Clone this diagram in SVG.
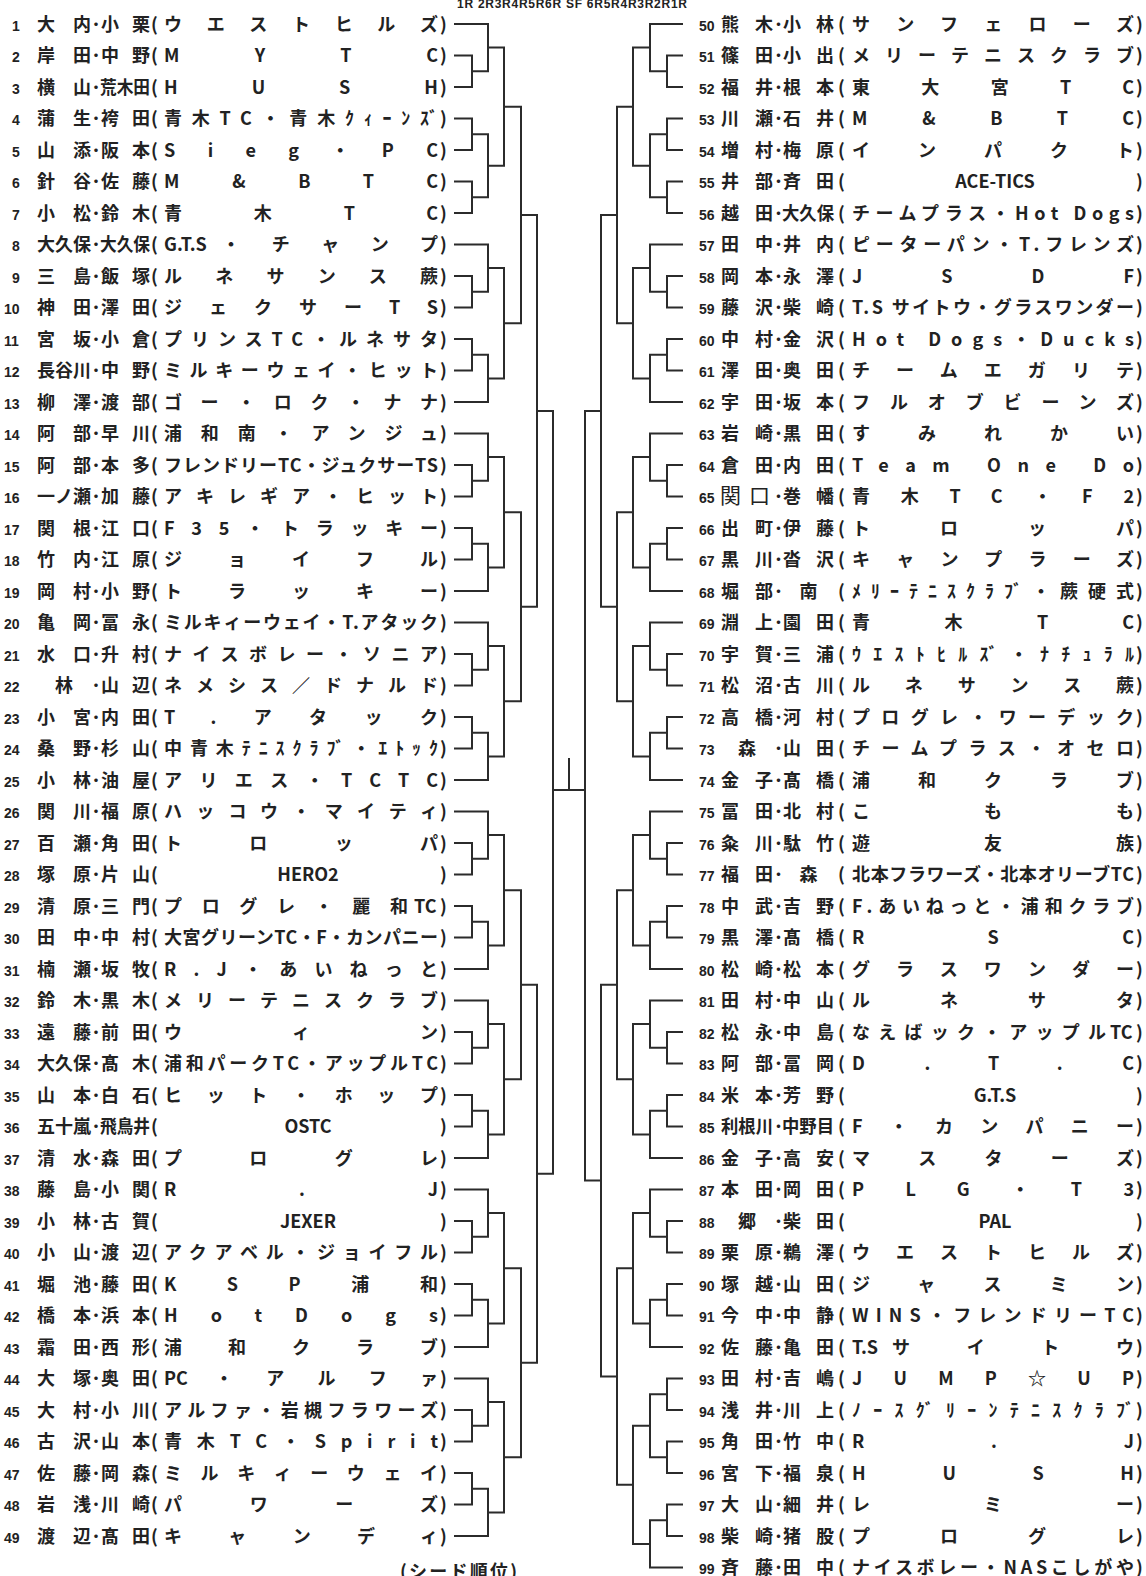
<svg xmlns="http://www.w3.org/2000/svg" width="1146" height="1576" viewBox="0 0 1146 1576">
<style>
text{font-family:"Noto Sans CJK JP","Noto Sans CJK SC",sans-serif;font-size:18px;font-weight:700;fill:#222}
.n{font-family:"Liberation Sans",Arial,sans-serif;font-size:14px;font-weight:700}
.c{text-anchor:middle}
.hd{font-family:"Liberation Sans",Arial,sans-serif;font-size:12px;font-weight:700}
.w{font-weight:400;font-size:21px}
#lines path{fill:none;stroke:#2b2b2b;stroke-width:2}
</style>
<rect width="1146" height="1576" fill="#fff"/>
<text class="hd" x="457" y="8" textLength="230">1R 2R3R4R5R6R SF 6R5R4R3R2R1R</text>
<g id="lines">
<path d="M454 55.5H472V87H454M454 24H488V71.25H472M454 118.5H472V150H454M454 181.5H472V213H454M472 134.25H488V197.25H472M488 47.6H504V165.75H488M454 276H472V307.5H454M454 244.5H488V291.75H472M454 339H472V370.5H454M472 354.75H488V402H454M488 268.1H504V378.4H488M504 106.7H521V323.25H504"/>
<path d="M454 465H472V496.5H454M454 433.5H488V480.75H472M454 528H472V559.5H454M472 543.75H488V591H454M488 457.1H504V567.4H488M454 654H472V685.5H454M454 622.5H488V669.75H472M454 717H472V748.5H454M472 732.75H488V780H454M488 646.1H504V756.4H488M504 512.25H521V701.25H504M521 215H537V606.75H521"/>
<path d="M454 843H472V874.5H454M454 811.5H488V858.75H472M454 906H472V937.5H454M472 921.75H488V969H454M488 835.1H504V945.4H488M454 1032H472V1063.5H454M454 1000.5H488V1047.75H472M454 1095H472V1126.5H454M472 1110.75H488V1158H454M488 1024.1H504V1134.4H488M504 890.25H521V1079.25H504"/>
<path d="M454 1221H472V1252.5H454M454 1189.5H488V1236.75H472M454 1284H472V1315.5H454M472 1299.75H488V1347H454M488 1213.1H504V1323.4H488M454 1410H472V1441.5H454M454 1378.5H488V1425.75H472M454 1473H472V1504.5H454M472 1488.75H488V1536H454M488 1402.1H504V1512.4H488M504 1268.25H521V1457.25H504M521 984.75H537V1362.75H521M537 410.9H553V1173.75H537"/>
<path d="M553 790H585M569 790V758"/>
<path d="M683 55.5H667V87H683M683 24H650V71.25H667M683 118.5H667V150H683M683 181.5H667V213H683M667 134.25H650V197.25H667M650 47.6H633V165.75H650M683 276H667V307.5H683M683 244.5H650V291.75H667M683 339H667V370.5H683M667 354.75H650V402H683M650 268.1H633V378.4H650M633 106.7H617V323.25H633"/>
<path d="M683 465H667V496.5H683M683 433.5H650V480.75H667M683 528H667V559.5H683M667 543.75H650V591H683M650 457.1H633V567.4H650M683 654H667V685.5H683M683 622.5H650V669.75H667M683 717H667V748.5H683M667 732.75H650V780H683M650 646.1H633V756.4H650M633 512.25H617V701.25H633M617 215H601V606.75H617"/>
<path d="M683 843H667V874.5H683M683 811.5H650V858.75H667M683 906H667V937.5H683M667 921.75H650V969H683M650 835.1H633V945.4H650M683 1032H667V1063.5H683M683 1000.5H650V1047.75H667M683 1095H667V1126.5H683M667 1110.75H650V1158H683M650 1024.1H633V1134.4H650M633 890.25H617V1079.25H633"/>
<path d="M683 1221H667V1252.5H683M683 1189.5H650V1236.75H667M683 1284H667V1315.5H683M667 1299.75H650V1347H683M650 1213.1H633V1323.4H650M683 1378.5H667V1410H683M683 1441.5H667V1473H683M667 1394.25H650V1457.25H667M683 1504.5H667V1536H683M667 1520.25H650V1567.5H683M650 1425.75H633V1543.9H650M633 1268.25H617V1484.8H633M617 984.75H601V1376.5H617M601 410.9H585V1180.6H601"/>
</g>
<g id="left">
<g id="p1" transform="translate(0,24)"><text y="6.5"><tspan class="n" x="12">1</tspan><tspan x="37" textLength="54">大内</tspan><tspan x="91.5">･</tspan><tspan x="101" textLength="49">小栗</tspan><tspan x="151">(</tspan><tspan x="164" textLength="274">ウエストヒルズ</tspan><tspan x="440">)</tspan></text></g>
<g id="p2" transform="translate(0,55.5)"><text y="6.5"><tspan class="n" x="12">2</tspan><tspan x="37" textLength="54">岸田</tspan><tspan x="91.5">･</tspan><tspan x="101" textLength="49">中野</tspan><tspan x="151">(</tspan><tspan x="164" textLength="274">MYTC</tspan><tspan x="440">)</tspan></text></g>
<g id="p3" transform="translate(0,87)"><text y="6.5"><tspan class="n" x="12">3</tspan><tspan x="37" textLength="54">横山</tspan><tspan x="91.5">･</tspan><tspan x="100" textLength="50" lengthAdjust="spacingAndGlyphs">荒木田</tspan><tspan x="151">(</tspan><tspan x="164" textLength="274">HUSH</tspan><tspan x="440">)</tspan></text></g>
<g id="p4" transform="translate(0,118.5)"><text y="6.5"><tspan class="n" x="12">4</tspan><tspan x="37" textLength="54">蒲生</tspan><tspan x="91.5">･</tspan><tspan x="101" textLength="49">袴田</tspan><tspan x="151">(</tspan><tspan x="164" textLength="274">青木TC・青木ｸｨｰﾝｽﾞ</tspan><tspan x="440">)</tspan></text></g>
<g id="p5" transform="translate(0,150)"><text y="6.5"><tspan class="n" x="12">5</tspan><tspan x="37" textLength="54">山添</tspan><tspan x="91.5">･</tspan><tspan x="101" textLength="49">阪本</tspan><tspan x="151">(</tspan><tspan x="164" textLength="274">Sieg・PC</tspan><tspan x="440">)</tspan></text></g>
<g id="p6" transform="translate(0,181.5)"><text y="6.5"><tspan class="n" x="12">6</tspan><tspan x="37" textLength="54">針谷</tspan><tspan x="91.5">･</tspan><tspan x="101" textLength="49">佐藤</tspan><tspan x="151">(</tspan><tspan x="164" textLength="274">M&amp;BTC</tspan><tspan x="440">)</tspan></text></g>
<g id="p7" transform="translate(0,213)"><text y="6.5"><tspan class="n" x="12">7</tspan><tspan x="37" textLength="54">小松</tspan><tspan x="91.5">･</tspan><tspan x="101" textLength="49">鈴木</tspan><tspan x="151">(</tspan><tspan x="164" textLength="274">青木TC</tspan><tspan x="440">)</tspan></text></g>
<g id="p8" transform="translate(0,244.5)"><text y="6.5"><tspan class="n" x="12">8</tspan><tspan x="37" textLength="54">大久保</tspan><tspan x="91.5">･</tspan><tspan x="100" textLength="50" lengthAdjust="spacingAndGlyphs">大久保</tspan><tspan x="151">(</tspan><tspan x="164">G.T.S</tspan><tspan x="222" textLength="216">・チャンプ</tspan><tspan x="440">)</tspan></text></g>
<g id="p9" transform="translate(0,276)"><text y="6.5"><tspan class="n" x="12">9</tspan><tspan x="37" textLength="54">三島</tspan><tspan x="91.5">･</tspan><tspan x="101" textLength="49">飯塚</tspan><tspan x="151">(</tspan><tspan x="164" textLength="274">ルネサンス蕨</tspan><tspan x="440">)</tspan></text></g>
<g id="p10" transform="translate(0,307.5)"><text y="6.5"><tspan class="n" x="4">10</tspan><tspan x="37" textLength="54">神田</tspan><tspan x="91.5">･</tspan><tspan x="101" textLength="49">澤田</tspan><tspan x="151">(</tspan><tspan x="164" textLength="274">ジェクサーTS</tspan><tspan x="440">)</tspan></text></g>
<g id="p11" transform="translate(0,339)"><text y="6.5"><tspan class="n" x="4">11</tspan><tspan x="37" textLength="54">宮坂</tspan><tspan x="91.5">･</tspan><tspan x="101" textLength="49">小倉</tspan><tspan x="151">(</tspan><tspan x="164" textLength="274">プリンスTC・ルネサタ</tspan><tspan x="440">)</tspan></text></g>
<g id="p12" transform="translate(0,370.5)"><text y="6.5"><tspan class="n" x="4">12</tspan><tspan x="37" textLength="54">長谷川</tspan><tspan x="91.5">･</tspan><tspan x="101" textLength="49">中野</tspan><tspan x="151">(</tspan><tspan x="164" textLength="274">ミルキーウェイ・ヒット</tspan><tspan x="440">)</tspan></text></g>
<g id="p13" transform="translate(0,402)"><text y="6.5"><tspan class="n" x="4">13</tspan><tspan x="37" textLength="54">柳澤</tspan><tspan x="91.5">･</tspan><tspan x="101" textLength="49">渡部</tspan><tspan x="151">(</tspan><tspan x="164" textLength="274">ゴー・ロク・ナナ</tspan><tspan x="440">)</tspan></text></g>
<g id="p14" transform="translate(0,433.5)"><text y="6.5"><tspan class="n" x="4">14</tspan><tspan x="37" textLength="54">阿部</tspan><tspan x="91.5">･</tspan><tspan x="101" textLength="49">早川</tspan><tspan x="151">(</tspan><tspan x="164" textLength="274">浦和南・アンジュ</tspan><tspan x="440">)</tspan></text></g>
<g id="p15" transform="translate(0,465)"><text y="6.5"><tspan class="n" x="4">15</tspan><tspan x="37" textLength="54">阿部</tspan><tspan x="91.5">･</tspan><tspan x="101" textLength="49">本多</tspan><tspan x="151">(</tspan><tspan x="164" textLength="274">フレンドリーTC・ジュクサーTS</tspan><tspan x="440">)</tspan></text></g>
<g id="p16" transform="translate(0,496.5)"><text y="6.5"><tspan class="n" x="4">16</tspan><tspan x="37" textLength="54">一ノ瀬</tspan><tspan x="91.5">･</tspan><tspan x="101" textLength="49">加藤</tspan><tspan x="151">(</tspan><tspan x="164" textLength="274">アキレギア・ヒット</tspan><tspan x="440">)</tspan></text></g>
<g id="p17" transform="translate(0,528)"><text y="6.5"><tspan class="n" x="4">17</tspan><tspan x="37" textLength="54">関根</tspan><tspan x="91.5">･</tspan><tspan x="101" textLength="49">江口</tspan><tspan x="151">(</tspan><tspan x="164" textLength="274">F35・トラッキー</tspan><tspan x="440">)</tspan></text></g>
<g id="p18" transform="translate(0,559.5)"><text y="6.5"><tspan class="n" x="4">18</tspan><tspan x="37" textLength="54">竹内</tspan><tspan x="91.5">･</tspan><tspan x="101" textLength="49">江原</tspan><tspan x="151">(</tspan><tspan x="164" textLength="274">ジョイフル</tspan><tspan x="440">)</tspan></text></g>
<g id="p19" transform="translate(0,591)"><text y="6.5"><tspan class="n" x="4">19</tspan><tspan x="37" textLength="54">岡村</tspan><tspan x="91.5">･</tspan><tspan x="101" textLength="49">小野</tspan><tspan x="151">(</tspan><tspan x="164" textLength="274">トラッキー</tspan><tspan x="440">)</tspan></text></g>
<g id="p20" transform="translate(0,622.5)"><text y="6.5"><tspan class="n" x="4">20</tspan><tspan x="37" textLength="54">亀岡</tspan><tspan x="91.5">･</tspan><tspan x="101" textLength="49">冨永</tspan><tspan x="151">(</tspan><tspan x="164" textLength="274">ミルキィーウェイ・T.アタック</tspan><tspan x="440">)</tspan></text></g>
<g id="p21" transform="translate(0,654)"><text y="6.5"><tspan class="n" x="4">21</tspan><tspan x="37" textLength="54">水口</tspan><tspan x="91.5">･</tspan><tspan x="101" textLength="49">升村</tspan><tspan x="151">(</tspan><tspan x="164" textLength="274">ナイスボレー・ソニア</tspan><tspan x="440">)</tspan></text></g>
<g id="p22" transform="translate(0,685.5)"><text y="6.5"><tspan class="n" x="4">22</tspan><tspan x="55">林</tspan><tspan x="91.5">･</tspan><tspan x="101" textLength="49">山辺</tspan><tspan x="151">(</tspan><tspan x="164" textLength="274">ネメシス／ドナルド</tspan><tspan x="440">)</tspan></text></g>
<g id="p23" transform="translate(0,717)"><text y="6.5"><tspan class="n" x="4">23</tspan><tspan x="37" textLength="54">小宮</tspan><tspan x="91.5">･</tspan><tspan x="101" textLength="49">内田</tspan><tspan x="151">(</tspan><tspan x="164" textLength="274">T.アタック</tspan><tspan x="440">)</tspan></text></g>
<g id="p24" transform="translate(0,748.5)"><text y="6.5"><tspan class="n" x="4">24</tspan><tspan x="37" textLength="54">桑野</tspan><tspan x="91.5">･</tspan><tspan x="101" textLength="49">杉山</tspan><tspan x="151">(</tspan><tspan x="164" textLength="274">中青木ﾃﾆｽｸﾗﾌﾞ・ｴﾄｯｸ</tspan><tspan x="440">)</tspan></text></g>
<g id="p25" transform="translate(0,780)"><text y="6.5"><tspan class="n" x="4">25</tspan><tspan x="37" textLength="54">小林</tspan><tspan x="91.5">･</tspan><tspan x="101" textLength="49">油屋</tspan><tspan x="151">(</tspan><tspan x="164" textLength="274">アリエス・TCTC</tspan><tspan x="440">)</tspan></text></g>
<g id="p26" transform="translate(0,811.5)"><text y="6.5"><tspan class="n" x="4">26</tspan><tspan x="37" textLength="54">関川</tspan><tspan x="91.5">･</tspan><tspan x="101" textLength="49">福原</tspan><tspan x="151">(</tspan><tspan x="164" textLength="274">ハッコウ・マイティ</tspan><tspan x="440">)</tspan></text></g>
<g id="p27" transform="translate(0,843)"><text y="6.5"><tspan class="n" x="4">27</tspan><tspan x="37" textLength="54">百瀬</tspan><tspan x="91.5">･</tspan><tspan x="101" textLength="49">角田</tspan><tspan x="151">(</tspan><tspan x="164" textLength="274">トロッパ</tspan><tspan x="440">)</tspan></text></g>
<g id="p28" transform="translate(0,874.5)"><text y="6.5"><tspan class="n" x="4">28</tspan><tspan x="37" textLength="54">塚原</tspan><tspan x="91.5">･</tspan><tspan x="101" textLength="49">片山</tspan><tspan x="151">(</tspan><tspan x="440">)</tspan></text><text class="c" x="308" y="6.5">HERO2</text></g>
<g id="p29" transform="translate(0,906)"><text y="6.5"><tspan class="n" x="4">29</tspan><tspan x="37" textLength="54">清原</tspan><tspan x="91.5">･</tspan><tspan x="101" textLength="49">三門</tspan><tspan x="151">(</tspan><tspan x="164" textLength="244">プログレ・麗和</tspan><tspan x="414">TC</tspan><tspan x="440">)</tspan></text></g>
<g id="p30" transform="translate(0,937.5)"><text y="6.5"><tspan class="n" x="4">30</tspan><tspan x="37" textLength="54">田中</tspan><tspan x="91.5">･</tspan><tspan x="101" textLength="49">中村</tspan><tspan x="151">(</tspan><tspan x="164" textLength="274">大宮グリーンTC・F・カンパニー</tspan><tspan x="440">)</tspan></text></g>
<g id="p31" transform="translate(0,969)"><text y="6.5"><tspan class="n" x="4">31</tspan><tspan x="37" textLength="54">楠瀬</tspan><tspan x="91.5">･</tspan><tspan x="101" textLength="49">坂牧</tspan><tspan x="151">(</tspan><tspan x="164" textLength="274">R.J・あいねっと</tspan><tspan x="440">)</tspan></text></g>
<g id="p32" transform="translate(0,1000.5)"><text y="6.5"><tspan class="n" x="4">32</tspan><tspan x="37" textLength="54">鈴木</tspan><tspan x="91.5">･</tspan><tspan x="101" textLength="49">黒木</tspan><tspan x="151">(</tspan><tspan x="164" textLength="274">メリーテニスクラブ</tspan><tspan x="440">)</tspan></text></g>
<g id="p33" transform="translate(0,1032)"><text y="6.5"><tspan class="n" x="4">33</tspan><tspan x="37" textLength="54">遠藤</tspan><tspan x="91.5">･</tspan><tspan x="101" textLength="49">前田</tspan><tspan x="151">(</tspan><tspan x="164" textLength="274">ウィン</tspan><tspan x="440">)</tspan></text></g>
<g id="p34" transform="translate(0,1063.5)"><text y="6.5"><tspan class="n" x="4">34</tspan><tspan x="37" textLength="54">大久保</tspan><tspan x="91.5">･</tspan><tspan x="101" textLength="49">髙木</tspan><tspan x="151">(</tspan><tspan x="164" textLength="274">浦和パークTC・アップルTC</tspan><tspan x="440">)</tspan></text></g>
<g id="p35" transform="translate(0,1095)"><text y="6.5"><tspan class="n" x="4">35</tspan><tspan x="37" textLength="54">山本</tspan><tspan x="91.5">･</tspan><tspan x="101" textLength="49">白石</tspan><tspan x="151">(</tspan><tspan x="164" textLength="274">ヒット・ホップ</tspan><tspan x="440">)</tspan></text></g>
<g id="p36" transform="translate(0,1126.5)"><text y="6.5"><tspan class="n" x="4">36</tspan><tspan x="37" textLength="54">五十嵐</tspan><tspan x="91.5">･</tspan><tspan x="100" textLength="50" lengthAdjust="spacingAndGlyphs">飛鳥井</tspan><tspan x="151">(</tspan><tspan x="440">)</tspan></text><text class="c" x="308" y="6.5">OSTC</text></g>
<g id="p37" transform="translate(0,1158)"><text y="6.5"><tspan class="n" x="4">37</tspan><tspan x="37" textLength="54">清水</tspan><tspan x="91.5">･</tspan><tspan x="101" textLength="49">森田</tspan><tspan x="151">(</tspan><tspan x="164" textLength="274">プログレ</tspan><tspan x="440">)</tspan></text></g>
<g id="p38" transform="translate(0,1189.5)"><text y="6.5"><tspan class="n" x="4">38</tspan><tspan x="37" textLength="54">藤島</tspan><tspan x="91.5">･</tspan><tspan x="101" textLength="49">小関</tspan><tspan x="151">(</tspan><tspan x="164" textLength="274">R.J</tspan><tspan x="440">)</tspan></text></g>
<g id="p39" transform="translate(0,1221)"><text y="6.5"><tspan class="n" x="4">39</tspan><tspan x="37" textLength="54">小林</tspan><tspan x="91.5">･</tspan><tspan x="101" textLength="49">古賀</tspan><tspan x="151">(</tspan><tspan x="440">)</tspan></text><text class="c" x="308" y="6.5">JEXER</text></g>
<g id="p40" transform="translate(0,1252.5)"><text y="6.5"><tspan class="n" x="4">40</tspan><tspan x="37" textLength="54">小山</tspan><tspan x="91.5">･</tspan><tspan x="101" textLength="49">渡辺</tspan><tspan x="151">(</tspan><tspan x="164" textLength="274">アクアベル・ジョイフル</tspan><tspan x="440">)</tspan></text></g>
<g id="p41" transform="translate(0,1284)"><text y="6.5"><tspan class="n" x="4">41</tspan><tspan x="37" textLength="54">堀池</tspan><tspan x="91.5">･</tspan><tspan x="101" textLength="49">藤田</tspan><tspan x="151">(</tspan><tspan x="164" textLength="274">KSP浦和</tspan><tspan x="440">)</tspan></text></g>
<g id="p42" transform="translate(0,1315.5)"><text y="6.5"><tspan class="n" x="4">42</tspan><tspan x="37" textLength="54">橋本</tspan><tspan x="91.5">･</tspan><tspan x="101" textLength="49">浜本</tspan><tspan x="151">(</tspan><tspan x="164" textLength="274">HotDogs</tspan><tspan x="440">)</tspan></text></g>
<g id="p43" transform="translate(0,1347)"><text y="6.5"><tspan class="n" x="4">43</tspan><tspan x="37" textLength="54">霜田</tspan><tspan x="91.5">･</tspan><tspan x="101" textLength="49">西形</tspan><tspan x="151">(</tspan><tspan x="164" textLength="274">浦和クラブ</tspan><tspan x="440">)</tspan></text></g>
<g id="p44" transform="translate(0,1378.5)"><text y="6.5"><tspan class="n" x="4">44</tspan><tspan x="37" textLength="54">大塚</tspan><tspan x="91.5">･</tspan><tspan x="101" textLength="49">奥田</tspan><tspan x="151">(</tspan><tspan x="164">PC</tspan><tspan x="215" textLength="223">・アルファ</tspan><tspan x="440">)</tspan></text></g>
<g id="p45" transform="translate(0,1410)"><text y="6.5"><tspan class="n" x="4">45</tspan><tspan x="37" textLength="54">大村</tspan><tspan x="91.5">･</tspan><tspan x="101" textLength="49">小川</tspan><tspan x="151">(</tspan><tspan x="164" textLength="274">アルファ・岩槻フラワーズ</tspan><tspan x="440">)</tspan></text></g>
<g id="p46" transform="translate(0,1441.5)"><text y="6.5"><tspan class="n" x="4">46</tspan><tspan x="37" textLength="54">古沢</tspan><tspan x="91.5">･</tspan><tspan x="101" textLength="49">山本</tspan><tspan x="151">(</tspan><tspan x="164" textLength="274">青木TC・Spirit</tspan><tspan x="440">)</tspan></text></g>
<g id="p47" transform="translate(0,1473)"><text y="6.5"><tspan class="n" x="4">47</tspan><tspan x="37" textLength="54">佐藤</tspan><tspan x="91.5">･</tspan><tspan x="101" textLength="49">岡森</tspan><tspan x="151">(</tspan><tspan x="164" textLength="274">ミルキィーウェイ</tspan><tspan x="440">)</tspan></text></g>
<g id="p48" transform="translate(0,1504.5)"><text y="6.5"><tspan class="n" x="4">48</tspan><tspan x="37" textLength="54">岩浅</tspan><tspan x="91.5">･</tspan><tspan x="101" textLength="49">川崎</tspan><tspan x="151">(</tspan><tspan x="164" textLength="274">パワーズ</tspan><tspan x="440">)</tspan></text></g>
<g id="p49" transform="translate(0,1536)"><text y="6.5"><tspan class="n" x="4">49</tspan><tspan x="37" textLength="54">渡辺</tspan><tspan x="91.5">･</tspan><tspan x="101" textLength="49">髙田</tspan><tspan x="151">(</tspan><tspan x="164" textLength="274">キャンディ</tspan><tspan x="440">)</tspan></text></g>
</g>
<g id="right">
<g id="p50" transform="translate(0,24)"><text y="6.5"><tspan class="n" x="699">50</tspan><tspan x="721" textLength="52">熊木</tspan><tspan x="774">･</tspan><tspan x="783" textLength="51">小林</tspan><tspan x="838">(</tspan><tspan x="852" textLength="282">サンフェローズ</tspan><tspan x="1136">)</tspan></text></g>
<g id="p51" transform="translate(0,55.5)"><text y="6.5"><tspan class="n" x="699">51</tspan><tspan x="721" textLength="52">篠田</tspan><tspan x="774">･</tspan><tspan x="783" textLength="51">小出</tspan><tspan x="838">(</tspan><tspan x="852" textLength="282">メリーテニスクラブ</tspan><tspan x="1136">)</tspan></text></g>
<g id="p52" transform="translate(0,87)"><text y="6.5"><tspan class="n" x="699">52</tspan><tspan x="721" textLength="52">福井</tspan><tspan x="774">･</tspan><tspan x="783" textLength="51">根本</tspan><tspan x="838">(</tspan><tspan x="852" textLength="282">東大宮TC</tspan><tspan x="1136">)</tspan></text></g>
<g id="p53" transform="translate(0,118.5)"><text y="6.5"><tspan class="n" x="699">53</tspan><tspan x="721" textLength="52">川瀬</tspan><tspan x="774">･</tspan><tspan x="783" textLength="51">石井</tspan><tspan x="838">(</tspan><tspan x="852" textLength="282">M&amp;BTC</tspan><tspan x="1136">)</tspan></text></g>
<g id="p54" transform="translate(0,150)"><text y="6.5"><tspan class="n" x="699">54</tspan><tspan x="721" textLength="52">増村</tspan><tspan x="774">･</tspan><tspan x="783" textLength="51">梅原</tspan><tspan x="838">(</tspan><tspan x="852" textLength="282">インパクト</tspan><tspan x="1136">)</tspan></text></g>
<g id="p55" transform="translate(0,181.5)"><text y="6.5"><tspan class="n" x="699">55</tspan><tspan x="721" textLength="52">井部</tspan><tspan x="774">･</tspan><tspan x="783" textLength="51">斉田</tspan><tspan x="838">(</tspan><tspan x="1136">)</tspan></text><text class="c" x="995" y="6.5">ACE-TICS</text></g>
<g id="p56" transform="translate(0,213)"><text y="6.5"><tspan class="n" x="699">56</tspan><tspan x="721" textLength="52">越田</tspan><tspan x="774">･</tspan><tspan x="782" textLength="52" lengthAdjust="spacingAndGlyphs">大久保</tspan><tspan x="838">(</tspan><tspan x="852" textLength="282">チームプラス・Hot Dogs</tspan><tspan x="1136">)</tspan></text></g>
<g id="p57" transform="translate(0,244.5)"><text y="6.5"><tspan class="n" x="699">57</tspan><tspan x="721" textLength="52">田中</tspan><tspan x="774">･</tspan><tspan x="783" textLength="51">井内</tspan><tspan x="838">(</tspan><tspan x="852" textLength="282">ピーターパン・T.フレンズ</tspan><tspan x="1136">)</tspan></text></g>
<g id="p58" transform="translate(0,276)"><text y="6.5"><tspan class="n" x="699">58</tspan><tspan x="721" textLength="52">岡本</tspan><tspan x="774">･</tspan><tspan x="783" textLength="51">永澤</tspan><tspan x="838">(</tspan><tspan x="852" textLength="282">JSDF</tspan><tspan x="1136">)</tspan></text></g>
<g id="p59" transform="translate(0,307.5)"><text y="6.5"><tspan class="n" x="699">59</tspan><tspan x="721" textLength="52">藤沢</tspan><tspan x="774">･</tspan><tspan x="783" textLength="51">柴崎</tspan><tspan x="838">(</tspan><tspan x="852" textLength="282">T.S サイトウ・グラスワンダー</tspan><tspan x="1136">)</tspan></text></g>
<g id="p60" transform="translate(0,339)"><text y="6.5"><tspan class="n" x="699">60</tspan><tspan x="721" textLength="52">中村</tspan><tspan x="774">･</tspan><tspan x="783" textLength="51">金沢</tspan><tspan x="838">(</tspan><tspan x="852" textLength="282">Hot Dogs・Ducks</tspan><tspan x="1136">)</tspan></text></g>
<g id="p61" transform="translate(0,370.5)"><text y="6.5"><tspan class="n" x="699">61</tspan><tspan x="721" textLength="52">澤田</tspan><tspan x="774">･</tspan><tspan x="783" textLength="51">奥田</tspan><tspan x="838">(</tspan><tspan x="852" textLength="282">チームエガリテ</tspan><tspan x="1136">)</tspan></text></g>
<g id="p62" transform="translate(0,402)"><text y="6.5"><tspan class="n" x="699">62</tspan><tspan x="721" textLength="52">宇田</tspan><tspan x="774">･</tspan><tspan x="783" textLength="51">坂本</tspan><tspan x="838">(</tspan><tspan x="852" textLength="282">フルオブビーンズ</tspan><tspan x="1136">)</tspan></text></g>
<g id="p63" transform="translate(0,433.5)"><text y="6.5"><tspan class="n" x="699">63</tspan><tspan x="721" textLength="52">岩崎</tspan><tspan x="774">･</tspan><tspan x="783" textLength="51">黒田</tspan><tspan x="838">(</tspan><tspan x="852" textLength="282">すみれかい</tspan><tspan x="1136">)</tspan></text></g>
<g id="p64" transform="translate(0,465)"><text y="6.5"><tspan class="n" x="699">64</tspan><tspan x="721" textLength="52">倉田</tspan><tspan x="774">･</tspan><tspan x="783" textLength="51">内田</tspan><tspan x="838">(</tspan><tspan x="852" textLength="282">Team One Do</tspan><tspan x="1136">)</tspan></text></g>
<g id="p65" transform="translate(0,496.5)"><text y="6.5"><tspan class="n" x="699">65</tspan><tspan class="w" x="720" textLength="50">関口</tspan><tspan x="774">･</tspan><tspan x="783" textLength="51">巻幡</tspan><tspan x="838">(</tspan><tspan x="852" textLength="282">青木TC・F2</tspan><tspan x="1136">)</tspan></text></g>
<g id="p66" transform="translate(0,528)"><text y="6.5"><tspan class="n" x="699">66</tspan><tspan x="721" textLength="52">出町</tspan><tspan x="774">･</tspan><tspan x="783" textLength="51">伊藤</tspan><tspan x="838">(</tspan><tspan x="852" textLength="282">トロッパ</tspan><tspan x="1136">)</tspan></text></g>
<g id="p67" transform="translate(0,559.5)"><text y="6.5"><tspan class="n" x="699">67</tspan><tspan x="721" textLength="52">黒川</tspan><tspan x="774">･</tspan><tspan x="783" textLength="51">沓沢</tspan><tspan x="838">(</tspan><tspan x="852" textLength="282">キャンプラーズ</tspan><tspan x="1136">)</tspan></text></g>
<g id="p68" transform="translate(0,591)"><text y="6.5"><tspan class="n" x="699">68</tspan><tspan x="721" textLength="52">堀部</tspan><tspan x="774">･</tspan><tspan x="799.5">南</tspan><tspan x="838">(</tspan><tspan x="852" textLength="282">ﾒﾘｰﾃﾆｽｸﾗﾌﾞ・蕨硬式</tspan><tspan x="1136">)</tspan></text></g>
<g id="p69" transform="translate(0,622.5)"><text y="6.5"><tspan class="n" x="699">69</tspan><tspan x="721" textLength="52">淵上</tspan><tspan x="774">･</tspan><tspan x="783" textLength="51">園田</tspan><tspan x="838">(</tspan><tspan x="852" textLength="282">青木TC</tspan><tspan x="1136">)</tspan></text></g>
<g id="p70" transform="translate(0,654)"><text y="6.5"><tspan class="n" x="699">70</tspan><tspan x="721" textLength="52">宇賀</tspan><tspan x="774">･</tspan><tspan x="783" textLength="51">三浦</tspan><tspan x="838">(</tspan><tspan x="852" textLength="282">ｳｴｽﾄﾋﾙｽﾞ・ﾅﾁｭﾗﾙ</tspan><tspan x="1136">)</tspan></text></g>
<g id="p71" transform="translate(0,685.5)"><text y="6.5"><tspan class="n" x="699">71</tspan><tspan x="721" textLength="52">松沼</tspan><tspan x="774">･</tspan><tspan x="783" textLength="51">古川</tspan><tspan x="838">(</tspan><tspan x="852" textLength="282">ルネサンス蕨</tspan><tspan x="1136">)</tspan></text></g>
<g id="p72" transform="translate(0,717)"><text y="6.5"><tspan class="n" x="699">72</tspan><tspan x="721" textLength="52">高橋</tspan><tspan x="774">･</tspan><tspan x="783" textLength="51">河村</tspan><tspan x="838">(</tspan><tspan x="852" textLength="282">プログレ・ワーデック</tspan><tspan x="1136">)</tspan></text></g>
<g id="p73" transform="translate(0,748.5)"><text y="6.5"><tspan class="n" x="699">73</tspan><tspan x="738">森</tspan><tspan x="774">･</tspan><tspan x="783" textLength="51">山田</tspan><tspan x="838">(</tspan><tspan x="852" textLength="282">チームプラス・オセロ</tspan><tspan x="1136">)</tspan></text></g>
<g id="p74" transform="translate(0,780)"><text y="6.5"><tspan class="n" x="699">74</tspan><tspan x="721" textLength="52">金子</tspan><tspan x="774">･</tspan><tspan x="783" textLength="51">髙橋</tspan><tspan x="838">(</tspan><tspan x="852" textLength="282">浦和クラブ</tspan><tspan x="1136">)</tspan></text></g>
<g id="p75" transform="translate(0,811.5)"><text y="6.5"><tspan class="n" x="699">75</tspan><tspan x="721" textLength="52">冨田</tspan><tspan x="774">･</tspan><tspan x="783" textLength="51">北村</tspan><tspan x="838">(</tspan><tspan x="852" textLength="282">こもも</tspan><tspan x="1136">)</tspan></text></g>
<g id="p76" transform="translate(0,843)"><text y="6.5"><tspan class="n" x="699">76</tspan><tspan x="721" textLength="52">粂川</tspan><tspan x="774">･</tspan><tspan x="783" textLength="51">駄竹</tspan><tspan x="838">(</tspan><tspan x="852" textLength="282">遊友族</tspan><tspan x="1136">)</tspan></text></g>
<g id="p77" transform="translate(0,874.5)"><text y="6.5"><tspan class="n" x="699">77</tspan><tspan x="721" textLength="52">福田</tspan><tspan x="774">･</tspan><tspan x="799.5">森</tspan><tspan x="838">(</tspan><tspan x="852" textLength="282">北本フラワーズ・北本オリーブTC</tspan><tspan x="1136">)</tspan></text></g>
<g id="p78" transform="translate(0,906)"><text y="6.5"><tspan class="n" x="699">78</tspan><tspan x="721" textLength="52">中武</tspan><tspan x="774">･</tspan><tspan x="783" textLength="51">吉野</tspan><tspan x="838">(</tspan><tspan x="852" textLength="282">F.あいねっと・浦和クラブ</tspan><tspan x="1136">)</tspan></text></g>
<g id="p79" transform="translate(0,937.5)"><text y="6.5"><tspan class="n" x="699">79</tspan><tspan x="721" textLength="52">黒澤</tspan><tspan x="774">･</tspan><tspan x="783" textLength="51">髙橋</tspan><tspan x="838">(</tspan><tspan x="852" textLength="282">RSC</tspan><tspan x="1136">)</tspan></text></g>
<g id="p80" transform="translate(0,969)"><text y="6.5"><tspan class="n" x="699">80</tspan><tspan x="721" textLength="52">松崎</tspan><tspan x="774">･</tspan><tspan x="783" textLength="51">松本</tspan><tspan x="838">(</tspan><tspan x="852" textLength="282">グラスワンダー</tspan><tspan x="1136">)</tspan></text></g>
<g id="p81" transform="translate(0,1000.5)"><text y="6.5"><tspan class="n" x="699">81</tspan><tspan x="721" textLength="52">田村</tspan><tspan x="774">･</tspan><tspan x="783" textLength="51">中山</tspan><tspan x="838">(</tspan><tspan x="852" textLength="282">ルネサタ</tspan><tspan x="1136">)</tspan></text></g>
<g id="p82" transform="translate(0,1032)"><text y="6.5"><tspan class="n" x="699">82</tspan><tspan x="721" textLength="52">松永</tspan><tspan x="774">･</tspan><tspan x="783" textLength="51">中島</tspan><tspan x="838">(</tspan><tspan x="852" textLength="254">なえばック・アップル</tspan><tspan x="1110">TC</tspan><tspan x="1136">)</tspan></text></g>
<g id="p83" transform="translate(0,1063.5)"><text y="6.5"><tspan class="n" x="699">83</tspan><tspan x="721" textLength="52">阿部</tspan><tspan x="774">･</tspan><tspan x="783" textLength="51">冨岡</tspan><tspan x="838">(</tspan><tspan x="852" textLength="282">D.T.C</tspan><tspan x="1136">)</tspan></text></g>
<g id="p84" transform="translate(0,1095)"><text y="6.5"><tspan class="n" x="699">84</tspan><tspan x="721" textLength="52">米本</tspan><tspan x="774">･</tspan><tspan x="783" textLength="51">芳野</tspan><tspan x="838">(</tspan><tspan x="1136">)</tspan></text><text class="c" x="995" y="6.5">G.T.S</text></g>
<g id="p85" transform="translate(0,1126.5)"><text y="6.5"><tspan class="n" x="699">85</tspan><tspan x="721" textLength="52" lengthAdjust="spacingAndGlyphs">利根川</tspan><tspan x="774">･</tspan><tspan x="782" textLength="52" lengthAdjust="spacingAndGlyphs">中野目</tspan><tspan x="838">(</tspan><tspan x="852" textLength="282">F・カンパニー</tspan><tspan x="1136">)</tspan></text></g>
<g id="p86" transform="translate(0,1158)"><text y="6.5"><tspan class="n" x="699">86</tspan><tspan x="721" textLength="52">金子</tspan><tspan x="774">･</tspan><tspan x="783" textLength="51">高安</tspan><tspan x="838">(</tspan><tspan x="852" textLength="282">マスターズ</tspan><tspan x="1136">)</tspan></text></g>
<g id="p87" transform="translate(0,1189.5)"><text y="6.5"><tspan class="n" x="699">87</tspan><tspan x="721" textLength="52">本田</tspan><tspan x="774">･</tspan><tspan x="783" textLength="51">岡田</tspan><tspan x="838">(</tspan><tspan x="852" textLength="282">PLG・T3</tspan><tspan x="1136">)</tspan></text></g>
<g id="p88" transform="translate(0,1221)"><text y="6.5"><tspan class="n" x="699">88</tspan><tspan x="738">郷</tspan><tspan x="774">･</tspan><tspan x="783" textLength="51">柴田</tspan><tspan x="838">(</tspan><tspan x="1136">)</tspan></text><text class="c" x="995" y="6.5">PAL</text></g>
<g id="p89" transform="translate(0,1252.5)"><text y="6.5"><tspan class="n" x="699">89</tspan><tspan x="721" textLength="52">栗原</tspan><tspan x="774">･</tspan><tspan x="783" textLength="51">鵜澤</tspan><tspan x="838">(</tspan><tspan x="852" textLength="282">ウエストヒルズ</tspan><tspan x="1136">)</tspan></text></g>
<g id="p90" transform="translate(0,1284)"><text y="6.5"><tspan class="n" x="699">90</tspan><tspan x="721" textLength="52">塚越</tspan><tspan x="774">･</tspan><tspan x="783" textLength="51">山田</tspan><tspan x="838">(</tspan><tspan x="852" textLength="282">ジャスミン</tspan><tspan x="1136">)</tspan></text></g>
<g id="p91" transform="translate(0,1315.5)"><text y="6.5"><tspan class="n" x="699">91</tspan><tspan x="721" textLength="52">今中</tspan><tspan x="774">･</tspan><tspan x="783" textLength="51">中静</tspan><tspan x="838">(</tspan><tspan x="852" textLength="282">WINS・フレンドリーTC</tspan><tspan x="1136">)</tspan></text></g>
<g id="p92" transform="translate(0,1347)"><text y="6.5"><tspan class="n" x="699">92</tspan><tspan x="721" textLength="52">佐藤</tspan><tspan x="774">･</tspan><tspan x="783" textLength="51">亀田</tspan><tspan x="838">(</tspan><tspan x="852">T.S</tspan><tspan x="892" textLength="242">サイトウ</tspan><tspan x="1136">)</tspan></text></g>
<g id="p93" transform="translate(0,1378.5)"><text y="6.5"><tspan class="n" x="699">93</tspan><tspan x="721" textLength="52">田村</tspan><tspan x="774">･</tspan><tspan x="783" textLength="51">吉嶋</tspan><tspan x="838">(</tspan><tspan x="852" textLength="282">JUMP☆UP</tspan><tspan x="1136">)</tspan></text></g>
<g id="p94" transform="translate(0,1410)"><text y="6.5"><tspan class="n" x="699">94</tspan><tspan x="721" textLength="52">浅井</tspan><tspan x="774">･</tspan><tspan x="783" textLength="51">川上</tspan><tspan x="838">(</tspan><tspan x="852" textLength="282">ﾉｰｽｸﾞﾘｰﾝﾃﾆｽｸﾗﾌﾞ</tspan><tspan x="1136">)</tspan></text></g>
<g id="p95" transform="translate(0,1441.5)"><text y="6.5"><tspan class="n" x="699">95</tspan><tspan x="721" textLength="52">角田</tspan><tspan x="774">･</tspan><tspan x="783" textLength="51">竹中</tspan><tspan x="838">(</tspan><tspan x="852" textLength="282">R.J</tspan><tspan x="1136">)</tspan></text></g>
<g id="p96" transform="translate(0,1473)"><text y="6.5"><tspan class="n" x="699">96</tspan><tspan x="721" textLength="52">宮下</tspan><tspan x="774">･</tspan><tspan x="783" textLength="51">福泉</tspan><tspan x="838">(</tspan><tspan x="852" textLength="282">HUSH</tspan><tspan x="1136">)</tspan></text></g>
<g id="p97" transform="translate(0,1504.5)"><text y="6.5"><tspan class="n" x="699">97</tspan><tspan x="721" textLength="52">大山</tspan><tspan x="774">･</tspan><tspan x="783" textLength="51">細井</tspan><tspan x="838">(</tspan><tspan x="852" textLength="282">レミー</tspan><tspan x="1136">)</tspan></text></g>
<g id="p98" transform="translate(0,1536)"><text y="6.5"><tspan class="n" x="699">98</tspan><tspan x="721" textLength="52">柴崎</tspan><tspan x="774">･</tspan><tspan x="783" textLength="51">猪股</tspan><tspan x="838">(</tspan><tspan x="852" textLength="282">プログレ</tspan><tspan x="1136">)</tspan></text></g>
<g id="p99" transform="translate(0,1567.5)"><text y="6.5"><tspan class="n" x="699">99</tspan><tspan x="721" textLength="52">斉藤</tspan><tspan x="774">･</tspan><tspan x="783" textLength="51">田中</tspan><tspan x="838">(</tspan><tspan x="852" textLength="282">ナイスボレー・NASこしがや</tspan><tspan x="1136">)</tspan></text></g>
</g>
<text x="400" y="1578" textLength="117">(シード順位)</text>
</svg>
